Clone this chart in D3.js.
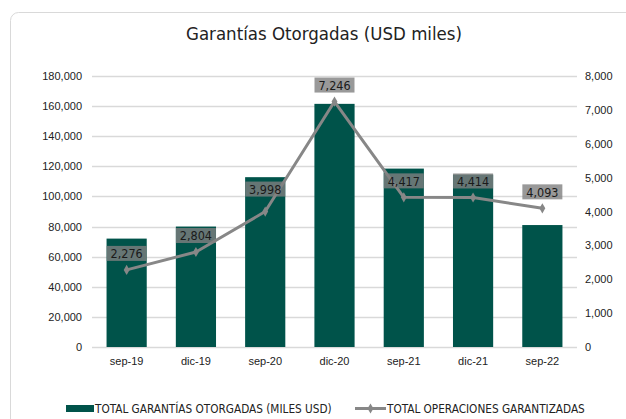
<!DOCTYPE html>
<html>
<head>
<meta charset="utf-8">
<script src="https://cdn.jsdelivr.net/npm/d3@7"></script>
<style>
  body { margin: 0; background: #fff; }
  svg { display: block; font-family: "DejaVu Sans Condensed", "DejaVu Sans", sans-serif; }
</style>
</head>
<body>
<svg id="chart" width="626" height="419"></svg>
<script>
const periodos = ['sep-19', 'dic-19', 'sep-20', 'dic-20', 'sep-21', 'dic-21', 'sep-22'];
const garantias = [72000, 80000, 112800, 161500, 118500, 114500, 81000];
const operaciones = [2276, 2804, 3998, 7246, 4417, 4414, 4093];
const ticksIzq = [0, 20000, 40000, 60000, 80000, 100000, 120000, 140000, 160000, 180000];
const ticksDer = [0, 1000, 2000, 3000, 4000, 5000, 6000, 7000, 8000];

const svg = d3.select('#chart');
const m = { left: 92, right: 49, top: 76, bottom: 72 };
const W = 626, H = 419;

// marco del gráfico
svg.append('rect')
    .attr('x', 10.5).attr('y', 12.5)
    .attr('width', 640).attr('height', 420)
    .attr('rx', 8)
    .attr('fill', '#fff').attr('stroke', '#d9d9d9');

svg.append('text')
    .attr('x', 324).attr('y', 40)
    .attr('text-anchor', 'middle')
    .attr('font-size', '18.5px').attr('fill', '#222')
    .text('Garantías Otorgadas (USD miles)');

const x = d3.scaleBand()
    .domain(periodos)
    .range([m.left, W - m.right])
    .paddingInner(0.42).paddingOuter(0.21);

const yL = d3.scaleLinear().domain([0, 180000]).range([H - m.bottom, m.top]);
const yR = d3.scaleLinear().domain([0, 8000]).range([H - m.bottom, m.top]);

// rejilla
svg.append('g')
    .selectAll('line')
    .data(ticksIzq)
    .join('line')
    .attr('x1', m.left).attr('x2', W - m.right)
    .attr('y1', d => Math.round(yL(d)) + 0.5)
    .attr('y2', d => Math.round(yL(d)) + 0.5)
    .attr('stroke', '#d9d9d9').attr('stroke-width', 1.3);

const fmt = d3.format(',');

svg.append('g')
    .attr('transform', `translate(${m.left}, 0)`)
    .call(d3.axisLeft(yL).tickValues(ticksIzq).tickFormat(fmt).tickSize(0).tickPadding(10))
    .call(g => g.select('.domain').remove())
    .call(g => g.selectAll('text').attr('font-size', '11px').attr('fill', '#222').attr('font-family', null));

svg.append('g')
    .attr('transform', `translate(${W - m.right}, 0)`)
    .call(d3.axisRight(yR).tickValues(ticksDer).tickFormat(fmt).tickSize(0).tickPadding(8))
    .call(g => g.select('.domain').remove())
    .call(g => g.selectAll('text').attr('font-size', '11px').attr('fill', '#222').attr('font-family', null));

svg.append('g')
    .attr('transform', `translate(0, ${H - m.bottom})`)
    .call(d3.axisBottom(x).tickSize(0).tickPadding(10))
    .call(g => g.select('.domain').remove())
    .call(g => g.selectAll('text').attr('font-size', '11px').attr('fill', '#222').attr('font-family', null));

// barras
svg.append('g')
    .selectAll('rect')
    .data(garantias)
    .join('rect')
    .attr('x', (d, i) => x(periodos[i]))
    .attr('y', d => yL(d))
    .attr('width', x.bandwidth())
    .attr('height', d => yL(0) - yL(d))
    .attr('fill', '#00534a');

// línea
const line = d3.line()
    .x((d, i) => x(periodos[i]) + x.bandwidth() / 2)
    .y(d => yR(d));

svg.append('path')
    .datum(operaciones)
    .attr('d', line)
    .attr('fill', 'none')
    .attr('stroke', '#878787').attr('stroke-width', 3)
    .attr('stroke-linejoin', 'round');

svg.append('g')
    .selectAll('path')
    .data(operaciones)
    .join('path')
    .attr('transform', (d, i) => `translate(${x(periodos[i]) + x.bandwidth() / 2}, ${yR(d)})`)
    .attr('d', d3.symbol(d3.symbolDiamond, 30))
    .attr('fill', '#878787');

// etiquetas de datos
const labelDy = (d, i) => i === 2 ? 22 : 16;
const labels = svg.append('g')
    .selectAll('g')
    .data(operaciones)
    .join('g')
    .attr('transform', (d, i) => `translate(${x(periodos[i]) + x.bandwidth() / 2}, ${yR(d) - labelDy(d, i)})`);

labels.append('rect')
    .attr('x', -20).attr('y', -8)
    .attr('width', 40).attr('height', 15)
    .attr('fill', '#7f7f7f').attr('fill-opacity', 0.8);

labels.append('text')
    .attr('text-anchor', 'middle')
    .attr('dy', '0.35em')
    .attr('font-size', '12.5px').attr('fill', '#1a1a1a')
    .text(d => fmt(d));

// leyenda
const ley = svg.append('g').attr('font-size', '11.7px').attr('fill', '#222');
ley.append('rect')
    .attr('x', 66).attr('y', 405).attr('width', 28).attr('height', 7)
    .attr('fill', '#00534a');
ley.append('text')
    .attr('x', 95).attr('y', 412.5)
    .text('TOTAL GARANTÍAS OTORGADAS (MILES USD)');
ley.append('line')
    .attr('x1', 355).attr('x2', 386).attr('y1', 408.5).attr('y2', 408.5)
    .attr('stroke', '#878787').attr('stroke-width', 3);
ley.append('path')
    .attr('transform', 'translate(370.5, 408.5)')
    .attr('d', d3.symbol(d3.symbolDiamond, 30))
    .attr('fill', '#878787');
ley.append('text')
    .attr('x', 387).attr('y', 412.5)
    .text('TOTAL OPERACIONES GARANTIZADAS');
</script>
</body>
</html>
